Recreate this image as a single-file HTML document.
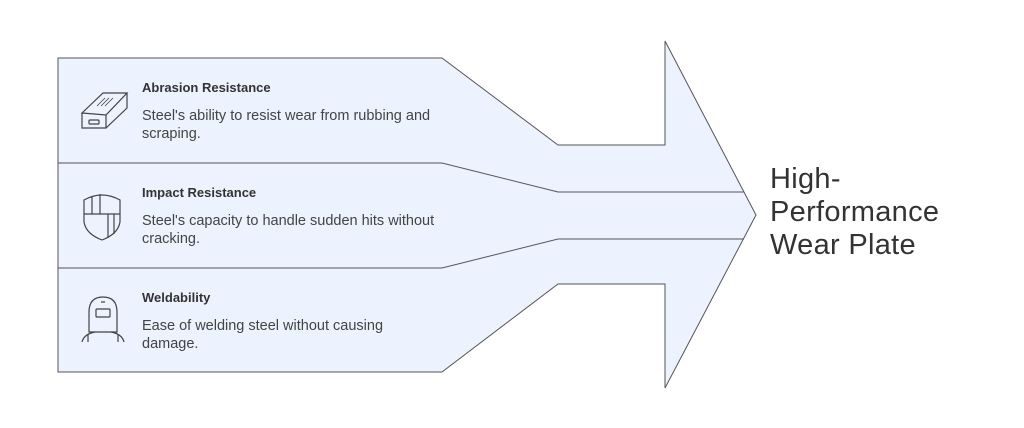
<!DOCTYPE html>
<html><head><meta charset="utf-8"><style>
body{margin:0;background:#fff;width:1024px;height:428px;overflow:hidden;font-family:"Liberation Sans",sans-serif}
svg{position:absolute;left:0;top:0}
.t{position:absolute;left:142px;font-size:13px;font-weight:bold;color:#333}
.d{position:absolute;left:142px;font-size:14.5px;line-height:18px;color:#444;width:298px}
.big{position:absolute;left:770px;top:163px;font-size:29px;line-height:33px;color:#333;letter-spacing:0.3px}
</style></head><body>
<svg width="1024" height="428" viewBox="0 0 1024 428">
<path d="M58 58H442L558 145H665V41L756 215L665 388V284H558L442 372H58Z" fill="#ecf2fe" stroke="#555" stroke-width="1"/>
<path d="M58 163H442L558 192H744M58 268H442L558 239H744" fill="none" stroke="#555" stroke-width="1"/>
<g fill="none" stroke="#444" stroke-width="1.2">
<path d="M82 113L103 93H127L106 115Z M82 113V128H106V115 M106 128L127 108V93"/>
<rect x="89" y="120" width="10" height="4" rx="1"/>
<path d="M101 106L109 98M105 106L113 98M97 106L105 98" stroke-width="0.8"/>
<path d="M84 200Q102 190 120 200V222Q118 234 102 240Q86 234 84 222Z"/>
<path d="M84 214H120M92 196V214M100 194V214M108 214V238M114 214V234"/>
<path d="M89 332V312Q89 297 103 297Q117 297 117 312V332Z"/>
<rect x="96" y="309" width="14" height="8" rx="1"/>
<path d="M101 302H105M82 342Q84 334 95 332M124 342Q122 334 111 332M88 334V342M118 334V342"/>
</g>
</svg>
<div class="t" style="top:80px">Abrasion Resistance</div>
<div class="d" style="top:107px">Steel's ability to resist wear from rubbing and scraping.</div>
<div class="t" style="top:185px">Impact Resistance</div>
<div class="d" style="top:212px">Steel's capacity to handle sudden hits without cracking.</div>
<div class="t" style="top:290px">Weldability</div>
<div class="d" style="top:317px">Ease of welding steel without causing damage.</div>
<div class="big">High-<br>Performance<br>Wear Plate</div>
</body></html>
